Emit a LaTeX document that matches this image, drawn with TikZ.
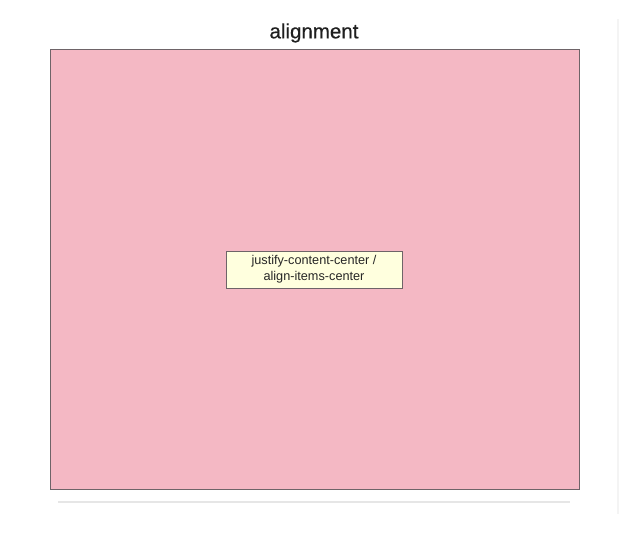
\documentclass[tikz,border=0pt]{standalone}
\usepackage{fontspec}
\setmainfont{Liberation Sans}
\newfontfamily\titlefont[FakeBold=0.5]{Liberation Sans}
\definecolor{pinkbg}{HTML}{F4B8C4}
\definecolor{itembg}{HTML}{FFFFDE}
\definecolor{edge}{HTML}{6E6468}
\definecolor{rule}{HTML}{E6E6E6}
\definecolor{faint}{HTML}{F4F4F4}
\begin{document}
\begin{tikzpicture}[x=1pt,y=-1pt,
  container/.style={draw=edge,fill=pinkbg,line width=0.9pt},
  item/.style={draw=edge,fill=itembg,line width=0.8pt,minimum width=176pt,minimum height=37pt,inner sep=0pt,align=center,font=\fontsize{12.7}{16}\selectfont,text=black!85},
  titletext/.style={font=\titlefont\fontsize{20.5}{24}\selectfont,text=black!88}]
\useasboundingbox[fill=white] (0,0) rectangle (633,547);
\draw[container] (50,49) rectangle (579,489);
\node[titletext] (title) at (314,33) {alignment};
\node[item] (box) at (314,269.5) {justify-content-center /\\align-items-center};
\draw[rule,line width=2pt] (58,502) -- (570,502);
\draw[faint,line width=1.5pt] (618,19) -- (618,514);
\end{tikzpicture}
\end{document}
